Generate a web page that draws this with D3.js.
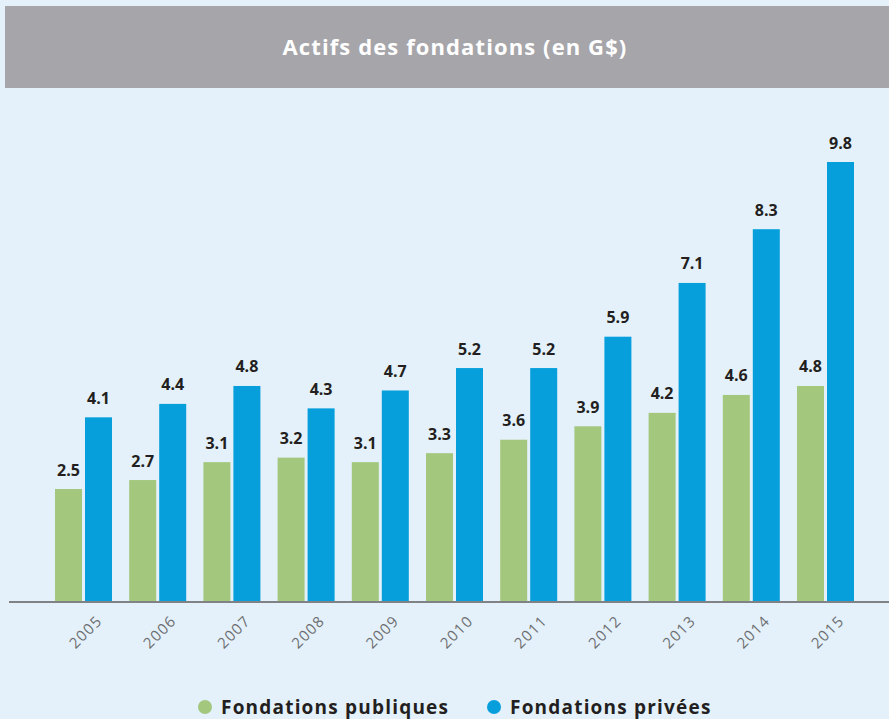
<!DOCTYPE html>
<html>
<head>
<meta charset="utf-8">
<script src="https://cdn.jsdelivr.net/npm/d3@7"></script>
<style>
  body { margin: 0; background: #e4f1fa; }
  svg { display: block; }
</style>
</head>
<body>
<div id="chart"></div>
<script>
// data
const years = ["2005","2006","2007","2008","2009","2010","2011","2012","2013","2014","2015"];
const publiques = [2.5, 2.7, 3.1, 3.2, 3.1, 3.3, 3.6, 3.9, 4.2, 4.6, 4.8];
const privees = [4.1, 4.4, 4.8, 4.3, 4.7, 5.2, 5.2, 5.9, 7.1, 8.3, 9.8];
const seriesNames = ["Fondations publiques", "Fondations privées"];
const colors = ["#a2c77d", "#069fdc"];

const width = 889, height = 719;
const font = "'Open Sans', sans-serif";

const svg = d3.select("#chart").append("svg")
    .attr("width", width)
    .attr("height", height);

svg.append("rect")
    .attr("width", width).attr("height", height)
    .attr("fill", "#e4f1fa");

// title banner
svg.append("rect")
    .attr("x", 5).attr("y", 6)
    .attr("width", width - 5).attr("height", 82)
    .attr("fill", "#a6a5aa");

svg.append("text")
    .attr("x", 455).attr("y", 55)
    .attr("text-anchor", "middle")
    .attr("fill", "#fff")
    .style("font", `700 22px ${font}`)
    .style("letter-spacing", "1.1px")
    .text("Actifs des fondations (en G$)");

// scales
const baseY = 601;
const step = 74.2, groupW = 57;
const x = d3.scaleBand()
    .domain(years)
    .range([55, 55 + step * (years.length - 1) + groupW])
    .paddingInner(1 - groupW / step)
    .paddingOuter(0);
const inner = d3.scaleBand()
    .domain([0, 1])
    .range([0, x.bandwidth()])
    .paddingInner(0.1);
const y = d3.scaleLinear()
    .domain([0, 9.8])
    .range([baseY, 162]);

const data = years.map((yr, i) => ({ year: yr, values: [publiques[i], privees[i]] }));

const groups = svg.append("g")
  .selectAll("g")
  .data(data)
  .join("g")
    .attr("transform", d => `translate(${x(d.year)},0)`);

groups.selectAll("rect")
  .data(d => d.values.map((v, k) => ({ k, v })))
  .join("rect")
    .attr("x", d => inner(d.k))
    .attr("y", d => y(d.v))
    .attr("width", inner.bandwidth())
    .attr("height", d => baseY - y(d.v))
    .attr("fill", d => colors[d.k]);

groups.selectAll("text.val")
  .data(d => d.values.map((v, k) => ({ k, v })))
  .join("text")
    .attr("class", "val")
    .attr("x", d => inner(d.k) + inner.bandwidth() / 2)
    .attr("y", d => y(d.v) - 13.5)
    .attr("text-anchor", "middle")
    .attr("fill", "#231f20")
    .style("font", `700 16px ${font}`)
    .text(d => d3.format(".1f")(d.v));

// axis line
svg.append("line")
    .attr("x1", 9).attr("x2", width)
    .attr("y1", baseY + 1).attr("y2", baseY + 1)
    .attr("stroke", "#808285")
    .attr("stroke-width", 2);

// year labels, rotated
svg.append("g")
  .selectAll("text")
  .data(years)
  .join("text")
    .attr("transform", d => `translate(${x(d) + x.bandwidth() / 2 + 2},${baseY + 31}) rotate(-45)`)
    .attr("text-anchor", "middle")
    .attr("dy", "0.35em")
    .attr("fill", "#6d6e71")
    .style("font", `400 15px ${font}`)
    .style("letter-spacing", "1.2px")
    .text(d => d);

// legend
const legendX = [205, 494];
const legend = svg.append("g")
  .selectAll("g")
  .data(seriesNames)
  .join("g")
    .attr("transform", (d, i) => `translate(${legendX[i]},707)`);

legend.append("circle")
    .attr("r", 7)
    .attr("fill", (d, i) => colors[i]);

legend.append("text")
    .attr("x", 16)
    .attr("y", 7)
    .attr("fill", "#231f20")
    .style("font", `700 19px ${font}`)
    .style("letter-spacing", "1.2px")
    .text(d => d);
</script>
</body>
</html>
